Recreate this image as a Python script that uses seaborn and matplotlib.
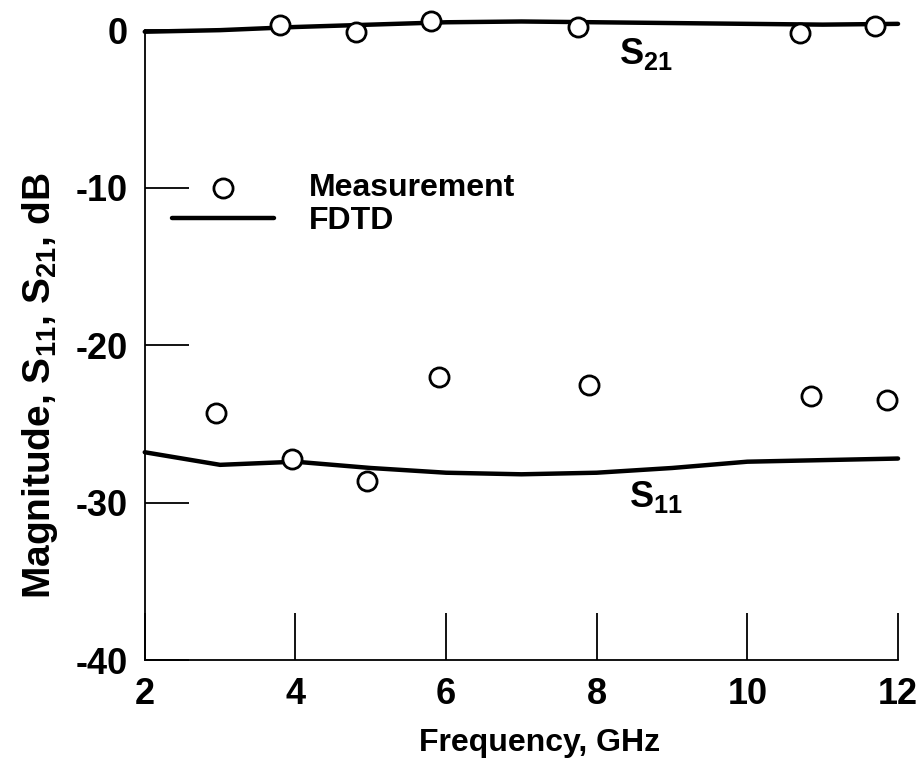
import matplotlib
matplotlib.use('Agg')
import matplotlib.pyplot as plt
import seaborn as sns
import pandas as pd

# measured points (GHz, dB)
meas_s21_f = [3.8, 4.8, 5.8, 7.75, 10.7, 11.7]
meas_s21_db = [0.3, -0.1, 0.6, 0.2, -0.2, 0.25]
meas_s11_f = [2.95, 3.95, 4.95, 5.9, 7.9, 10.85, 11.85]
meas_s11_db = [-24.3, -27.2, -28.6, -22.0, -22.5, -23.2, -23.5]

# FDTD curves
fdtd_f = [2, 3, 4, 5, 6, 7, 8, 9, 10, 11, 12]
fdtd_s21_db = [-0.1, 0.0, 0.2, 0.35, 0.5, 0.55, 0.5, 0.45, 0.4, 0.35, 0.4]
fdtd_s11_db = [-26.8, -27.6, -27.4, -27.8, -28.1, -28.2, -28.1, -27.8, -27.4, -27.3, -27.2]

x_ticks = [2, 4, 6, 8, 10, 12]
y_ticks = [0, -10, -20, -30, -40]

sns.set_style('ticks')
fam = 'Liberation Sans'
plt.rcParams['font.family'] = [fam, 'DejaVu Sans']
plt.rcParams['font.weight'] = 'bold'
plt.rcParams['axes.labelweight'] = 'bold'
plt.rcParams['mathtext.fontset'] = 'custom'
plt.rcParams['mathtext.rm'] = fam + ':bold'
plt.rcParams['mathtext.it'] = fam + ':bold'
plt.rcParams['mathtext.bf'] = fam + ':bold'
plt.rcParams['mathtext.default'] = 'regular'
plt.rcParams['axes.unicode_minus'] = False
plt.rcParams['text.color'] = 'black'
plt.rcParams['axes.labelcolor'] = 'black'
plt.rcParams['xtick.color'] = 'black'
plt.rcParams['ytick.color'] = 'black'

fig = plt.figure(figsize=(9.22, 7.73), dpi=100)
ax = fig.add_axes([0.157, 0.146, 0.817, 0.815])

fdtd = pd.DataFrame({'f': fdtd_f * 2,
                     'db': fdtd_s21_db + fdtd_s11_db,
                     'curve': ['S21'] * len(fdtd_f) + ['S11'] * len(fdtd_f)})
meas = pd.DataFrame({'f': meas_s21_f + meas_s11_f,
                     'db': meas_s21_db + meas_s11_db})

sns.lineplot(data=fdtd, x='f', y='db', units='curve', estimator=None,
             color='black', linewidth=3.2, ax=ax, label='FDTD')
sns.scatterplot(data=meas, x='f', y='db', marker='o', s=190, facecolor='white',
                edgecolor='black', linewidth=2, ax=ax, zorder=5, clip_on=False,
                label='Measurement')
for ln in ax.lines:
    ln.set_clip_on(False)

ax.set_xlim(2, 12)
ax.set_ylim(-40, 0)
ax.set_xticks(x_ticks)
ax.set_yticks(y_ticks)
ax.tick_params(axis='both', direction='in', labelsize=26, width=1.3, pad=12)
ax.tick_params(axis='y', length=32)
ax.tick_params(axis='x', length=34)
sns.despine(ax=ax)
for sp in ['left', 'bottom']:
    ax.spines[sp].set_linewidth(1.3)
    ax.spines[sp].set_color('black')

ax.set_xlabel('Frequency, GHz', fontsize=23)
ax.set_ylabel('Magnitude, S$_{11}$, S$_{21}$, dB', fontsize=28)
ax.xaxis.set_label_coords(0.524, -0.108)
ax.yaxis.set_label_coords(-0.112, 0.435)

ax.text(8.65, -1.5, 'S$_{21}$', fontsize=26, ha='center', va='center')
ax.text(8.78, -29.65, 'S$_{11}$', fontsize=26, ha='center', va='center')

handles, labels = ax.get_legend_handles_labels()
order = [labels.index('Measurement'), labels.index('FDTD')]
ax.legend([handles[i] for i in order], [labels[i] for i in order],
          loc='upper left', bbox_to_anchor=(0.036, 0.773), frameon=False,
          prop={'size': 23, 'weight': 'bold', 'family': [fam, 'DejaVu Sans']},
          borderpad=0, borderaxespad=0, handlelength=3.2,
          handletextpad=1.1, labelspacing=0.1)

plt.savefig('out.png', dpi=100)
